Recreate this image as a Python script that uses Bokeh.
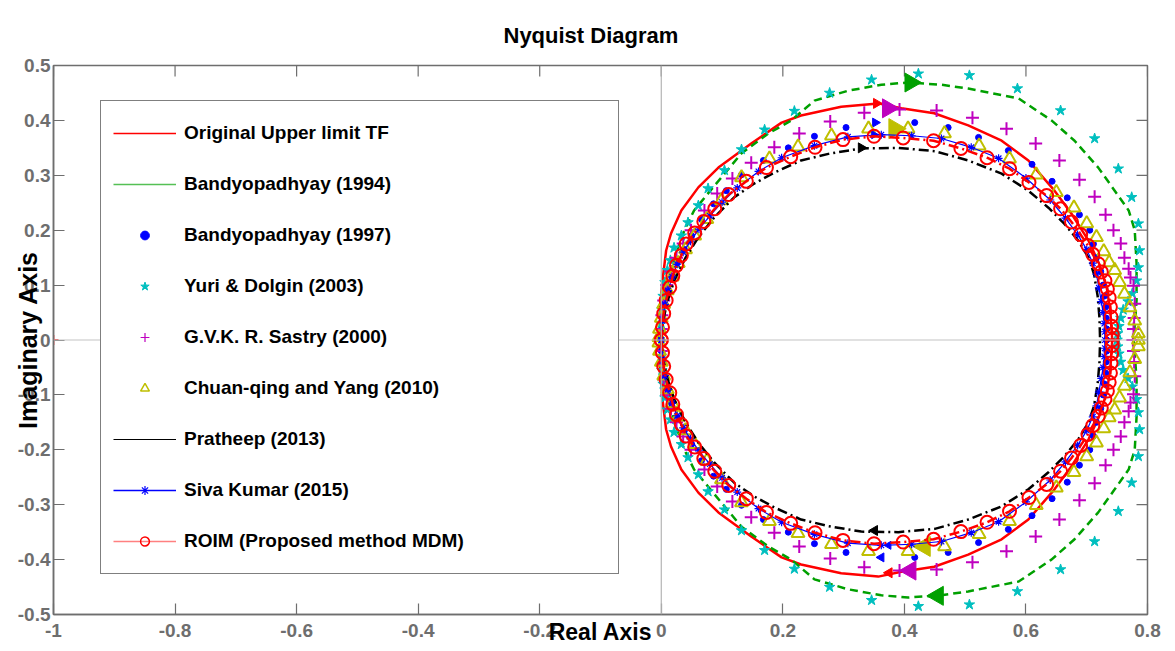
import math
import numpy as np
from bokeh.plotting import figure
from bokeh.models import Range1d, Span, Legend, LegendItem, FixedTicker, Title
from bokeh.embed import file_html
from bokeh.resources import INLINE

# ---------------- data (upper half of each Nyquist curve,
# ordered from the real-axis end (w=0) to the origin) ----------------
orig_x = [0.742, 0.739, 0.733, 0.722, 0.703, 0.675, 0.647, 0.604, 0.560, 0.505, 0.449, 0.395, 0.357, 0.296, 0.230, 0.198, 0.148, 0.094, 0.061, 0.033, 0.016, 0.008, 0.002, -0.002, -0.002, 0.000]
orig_y = [0.000, 0.050, 0.095, 0.135, 0.181, 0.230, 0.272, 0.327, 0.363, 0.391, 0.413, 0.422, 0.431, 0.425, 0.409, 0.396, 0.358, 0.314, 0.278, 0.236, 0.194, 0.163, 0.108, 0.060, 0.030, 0.000]

b94_x = [0.777, 0.780, 0.782, 0.782, 0.779, 0.769, 0.746, 0.719, 0.680, 0.642, 0.588, 0.505, 0.461, 0.406, 0.362, 0.307, 0.252, 0.214, 0.176, 0.132, 0.104, 0.077, 0.054, 0.038, 0.028, 0.018, 0.010, 0.004, 0.001, 0.000]
b94_y = [0.000, 0.040, 0.072, 0.140, 0.200, 0.236, 0.272, 0.314, 0.363, 0.400, 0.440, 0.458, 0.465, 0.469, 0.465, 0.454, 0.436, 0.400, 0.376, 0.340, 0.303, 0.267, 0.236, 0.200, 0.169, 0.135, 0.100, 0.060, 0.030, 0.000]

b97_x = [0.733, 0.733, 0.732, 0.731, 0.729, 0.727, 0.723, 0.716, 0.711, 0.705, 0.688, 0.668, 0.643, 0.610, 0.571, 0.522, 0.472, 0.417, 0.304, 0.252, 0.209, 0.168, 0.132, 0.107, 0.086, 0.066, 0.050, 0.038, 0.026, 0.017, 0.010, 0.005, 0.002, 0.000, 0.000]
b97_y = [0.000, 0.020, 0.040, 0.060, 0.080, 0.100, 0.125, 0.150, 0.175, 0.200, 0.228, 0.259, 0.289, 0.320, 0.345, 0.369, 0.387, 0.396, 0.387, 0.371, 0.350, 0.327, 0.301, 0.272, 0.248, 0.220, 0.190, 0.165, 0.140, 0.115, 0.090, 0.065, 0.040, 0.020, 0.000]

yuri_x = [0.750, 0.751, 0.753, 0.756, 0.760, 0.768, 0.775, 0.782, 0.785, 0.787, 0.785, 0.774, 0.752, 0.713, 0.657, 0.586, 0.507, 0.423, 0.346, 0.277, 0.219, 0.170, 0.132, 0.104, 0.077, 0.061, 0.044, 0.033, 0.021, 0.015, 0.010, 0.006, 0.003, 0.001, 0.000]
yuri_y = [0.000, 0.012, 0.025, 0.040, 0.055, 0.070, 0.085, 0.108, 0.132, 0.163, 0.212, 0.260, 0.312, 0.367, 0.418, 0.458, 0.482, 0.485, 0.474, 0.450, 0.417, 0.383, 0.347, 0.309, 0.276, 0.245, 0.214, 0.190, 0.168, 0.145, 0.127, 0.105, 0.080, 0.055, 0.030]

sas_x = [0.776, 0.777, 0.778, 0.779, 0.777, 0.772, 0.769, 0.762, 0.756, 0.744, 0.731, 0.713, 0.688, 0.655, 0.616, 0.568, 0.512, 0.453, 0.392, 0.334, 0.278, 0.227, 0.186, 0.148, 0.117, 0.092, 0.071, 0.049, 0.036, 0.025, 0.016, 0.009, 0.004, 0.001, 0.000]
sas_y = [0.000, 0.020, 0.040, 0.066, 0.099, 0.114, 0.130, 0.150, 0.176, 0.200, 0.228, 0.261, 0.292, 0.327, 0.358, 0.385, 0.405, 0.418, 0.420, 0.414, 0.398, 0.376, 0.351, 0.323, 0.294, 0.267, 0.236, 0.200, 0.176, 0.150, 0.125, 0.100, 0.072, 0.045, 0.020]

chu_x = [0.785, 0.785, 0.779, 0.771, 0.762, 0.754, 0.746, 0.737, 0.728, 0.716, 0.700, 0.679, 0.650, 0.617, 0.573, 0.523, 0.466, 0.406, 0.341, 0.280, 0.225, 0.178, 0.132, 0.099, 0.075, 0.055, 0.040, 0.028, 0.018, 0.010, 0.004, 0.000, -0.003, -0.004]
chu_y = [0.000, 0.012, 0.035, 0.059, 0.084, 0.105, 0.127, 0.141, 0.161, 0.187, 0.212, 0.241, 0.269, 0.301, 0.330, 0.354, 0.376, 0.385, 0.385, 0.372, 0.352, 0.330, 0.296, 0.254, 0.220, 0.190, 0.165, 0.140, 0.115, 0.090, 0.065, 0.040, 0.020, 0.005]

pra_x = [0.722, 0.721, 0.718, 0.712, 0.703, 0.686, 0.663, 0.637, 0.604, 0.560, 0.505, 0.450, 0.390, 0.329, 0.275, 0.230, 0.186, 0.153, 0.120, 0.087, 0.061, 0.040, 0.022, 0.010, 0.003, 0.000]
pra_y = [0.000, 0.040, 0.080, 0.120, 0.150, 0.181, 0.212, 0.241, 0.272, 0.303, 0.327, 0.344, 0.350, 0.349, 0.339, 0.327, 0.305, 0.285, 0.260, 0.223, 0.187, 0.150, 0.110, 0.070, 0.035, 0.000]

siva_x = [0.730, 0.730, 0.729, 0.727, 0.724, 0.720, 0.716, 0.710, 0.700, 0.685, 0.665, 0.640, 0.600, 0.555, 0.510, 0.461, 0.412, 0.362, 0.307, 0.252, 0.198, 0.160, 0.125, 0.100, 0.080, 0.062, 0.048, 0.036, 0.026, 0.018, 0.011, 0.006, 0.002, 0.000]
siva_y = [0.000, 0.015, 0.030, 0.050, 0.070, 0.095, 0.120, 0.140, 0.165, 0.192, 0.222, 0.255, 0.295, 0.331, 0.351, 0.367, 0.372, 0.374, 0.370, 0.354, 0.332, 0.307, 0.277, 0.251, 0.226, 0.202, 0.180, 0.160, 0.138, 0.115, 0.090, 0.065, 0.035, 0.000]

roim_x = [0.742, 0.742, 0.741, 0.740, 0.739, 0.737, 0.734, 0.730, 0.724, 0.719, 0.710, 0.702, 0.690, 0.675, 0.657, 0.634, 0.605, 0.573, 0.536, 0.493, 0.448, 0.398, 0.350, 0.299, 0.253, 0.213, 0.173, 0.140, 0.111, 0.088, 0.070, 0.055, 0.041, 0.033, 0.025, 0.019, 0.014, 0.008, 0.004, 0.002, 0.000]
roim_y = [0.000, 0.010, 0.025, 0.042, 0.060, 0.077, 0.093, 0.108, 0.124, 0.139, 0.156, 0.172, 0.192, 0.215, 0.239, 0.263, 0.287, 0.312, 0.332, 0.349, 0.363, 0.368, 0.371, 0.365, 0.351, 0.334, 0.314, 0.289, 0.265, 0.239, 0.216, 0.195, 0.175, 0.154, 0.136, 0.117, 0.096, 0.072, 0.048, 0.023, 0.000]

# direction arrows (upper one on the w<0 branch, lower one on the w>0 branch)
orig_arrow_x = [0.354, 0.375]
orig_arrow_y = [0.431, -0.424]
b94_arrow_x = [0.410, 0.455]
b94_arrow_y = [0.469, -0.466]
b97_arrow_x = [0.352, 0.362]
b97_arrow_y = [0.396, -0.396]
sas_arrow_x = [0.373, 0.410]
sas_arrow_y = [0.422, -0.420]
chu_arrow_x = [0.384, 0.433]
chu_arrow_y = [0.385, -0.376]
pra_arrow_x = [0.329, 0.351]
pra_arrow_y = [0.350, -0.347]
siva_arrow_x = [0.350, 0.374]
siva_arrow_y = [0.374, -0.374]

critical_x = [-1.0]
critical_y = [0.0]

x_ticks = [-1.0, -0.8, -0.6, -0.4, -0.2, 0.0, 0.2, 0.4, 0.6, 0.8]
x_tick_labels = ["-1", "-0.8", "-0.6", "-0.4", "-0.2", "0", "0.2", "0.4", "0.6", "0.8"]
y_ticks = [-0.5, -0.4, -0.3, -0.2, -0.1, 0.0, 0.1, 0.2, 0.3, 0.4, 0.5]
y_tick_labels = ["-0.5", "-0.4", "-0.3", "-0.2", "-0.1", "0", "0.1", "0.2", "0.3", "0.4", "0.5"]

labels = ["Original Upper limit TF", "Bandyopadhyay (1994)", "Bandyopadhyay (1997)",
          "Yuri & Dolgin (2003)", "G.V.K. R. Sastry (2000)", "Chuan-qing and Yang (2010)",
          "Pratheep (2013)", "Siva Kumar (2015)", "ROIM (Proposed method MDM)"]
title_text = "Nyquist Diagram"
x_title = "Real Axis"
y_title = "Imaginary Axis"

X_MIN, X_MAX = -1.0, 0.8
Y_MIN, Y_MAX = -0.5, 0.5


def full_curve(xs, ys):
    """Nyquist curve: w<0 branch is the complex conjugate of the w>0 branch."""
    fx = list(reversed(xs)) + list(xs[1:])
    fy = list(reversed(ys)) + [-v for v in ys[1:]]
    return fx, fy


def arrow_angles(ys):
    return [-math.pi / 2 if v > 0 else math.pi / 2 for v in ys]


FONT = "Liberation Sans"
RED = "#ff0000"
GREEN = "#00a000"
BLUE = "#0000ff"
CYAN = "#00bfbf"
MAGENTA = "#bf00bf"
YELLOW = "#bfbf00"
AXIS_GREY = "#6e6e6e"

W, H = 1174, 650
ML, MT, MR, MB = 53, 65, 27, 36
FRAME_W = W - ML - MR
FRAME_H = H - MT - MB
TICK_PX = 11

p = figure(width=W, height=H, output_backend="svg", toolbar_location=None, title=None,
           x_range=Range1d(X_MIN, X_MAX), y_range=Range1d(Y_MIN, Y_MAX),
           min_border_left=ML, min_border_right=MR, min_border_top=MT, min_border_bottom=MB)
p.xgrid.visible = False
p.ygrid.visible = False
p.outline_line_color = AXIS_GREY
p.outline_line_width = 1.5
p.background_fill_color = "white"

xax = p.below[0]
yax = p.left[0]

# title lifted away from the frame by its standoff
title = Title(text=title_text, align="left", offset=450, standoff=36, text_font=FONT,
              text_font_size="22px", text_font_style="bold", text_color="black")
p.add_layout(title, "above")

for ax in (xax, yax):
    ax.axis_line_color = AXIS_GREY
    ax.axis_line_width = 1.5
    ax.major_tick_line_color = AXIS_GREY
    ax.major_tick_line_width = 1.2
    ax.major_tick_in = TICK_PX
    ax.major_tick_out = 0
    ax.minor_tick_line_color = None
    ax.major_label_text_font = FONT
    ax.major_label_text_font_style = "bold"
    ax.major_label_text_font_size = "19px"
    ax.major_label_text_color = AXIS_GREY
    ax.axis_label_text_font = FONT
    ax.axis_label_text_font_style = "bold"
    ax.axis_label_text_color = "black"

xax.ticker = FixedTicker(ticks=x_ticks)
yax.ticker = FixedTicker(ticks=y_ticks)
xax.major_label_overrides = dict(zip(x_ticks, x_tick_labels))
yax.major_label_overrides = dict(zip(y_ticks, y_tick_labels))
xax.major_label_standoff = 9
yax.major_label_standoff = 3
xax.axis_label = x_title
yax.axis_label = y_title
xax.axis_label_text_font_size = "23px"
yax.axis_label_text_font_size = "25px"
xax.axis_label_standoff = -21
yax.axis_label_standoff = -27

# inward tick marks on the top and right edges of the box
dy = TICK_PX * (Y_MAX - Y_MIN) / FRAME_H
dx = TICK_PX * (X_MAX - X_MIN) / FRAME_W
p.segment(x0=x_ticks, y0=[Y_MAX] * len(x_ticks), x1=x_ticks, y1=[Y_MAX - dy] * len(x_ticks),
          line_color=AXIS_GREY, line_width=1.2)
p.segment(x0=[X_MAX] * len(y_ticks), y0=y_ticks, x1=[X_MAX - dx] * len(y_ticks), y1=y_ticks,
          line_color=AXIS_GREY, line_width=1.2)

# zero lines
p.add_layout(Span(location=0, dimension="height", line_color="#b4b4b4", line_width=1.2))
p.add_layout(Span(location=0, dimension="width", line_color="#c4c4c4", line_width=1.2))

# critical point
p.scatter(critical_x, critical_y, marker="cross", size=10, line_color=RED, line_width=1.5)

# --- curves ---
fx, fy = full_curve(orig_x, orig_y)
p.line(fx, fy, line_color=RED, line_width=2.5)
p.scatter(orig_arrow_x, orig_arrow_y, marker="triangle", size=10, angle=arrow_angles(orig_arrow_y),
          fill_color=RED, line_color=RED)

fx, fy = full_curve(b94_x, b94_y)
p.line(fx, fy, line_color=GREEN, line_width=2.5, line_dash="8 5")
p.scatter(b94_arrow_x, b94_arrow_y, marker="triangle", size=19, angle=arrow_angles(b94_arrow_y),
          fill_color=GREEN, line_color=GREEN)

fx, fy = full_curve(b97_x, b97_y)
p.scatter(fx, fy, marker="circle", size=6, fill_color=BLUE, line_color=BLUE)
p.scatter(b97_arrow_x, b97_arrow_y, marker="triangle", size=9, angle=arrow_angles(b97_arrow_y),
          fill_color=BLUE, line_color=BLUE)

fx, fy = full_curve(yuri_x, yuri_y)
p.scatter(fx, fy, marker="star", size=11, fill_color=CYAN, line_color=CYAN)

fx, fy = full_curve(sas_x, sas_y)
p.scatter(fx, fy, marker="cross", size=13, line_color=MAGENTA, line_width=2)
p.scatter(sas_arrow_x, sas_arrow_y, marker="triangle", size=19, angle=arrow_angles(sas_arrow_y),
          fill_color=MAGENTA, line_color=MAGENTA)

fx, fy = full_curve(chu_x, chu_y)
p.scatter(fx, fy, marker="triangle", size=13, fill_color=None, line_color=YELLOW, line_width=2)
p.scatter(chu_arrow_x, chu_arrow_y, marker="triangle", size=20, angle=arrow_angles(chu_arrow_y),
          fill_color=YELLOW, line_color=YELLOW)

fx, fy = full_curve(pra_x, pra_y)
p.line(fx, fy, line_color="black", line_width=2.5, line_dash="10 4 2 4")
p.scatter(pra_arrow_x, pra_arrow_y, marker="triangle", size=10, angle=arrow_angles(pra_arrow_y),
          fill_color="black", line_color="black")

fx, fy = full_curve(siva_x, siva_y)
p.line(fx, fy, line_color=BLUE, line_width=1.2)
p.scatter(fx, fy, marker="asterisk", size=8, line_color=BLUE, line_width=1.2)
p.scatter(siva_arrow_x, siva_arrow_y, marker="triangle", size=8, angle=arrow_angles(siva_arrow_y),
          fill_color=BLUE, line_color=BLUE)

fx, fy = full_curve(roim_x, roim_y)
p.line(fx, fy, line_color=RED, line_width=2.5, line_dash="10 4 2 4")
p.scatter(fx, fy, marker="circle", size=13, fill_color=None, line_color=RED, line_width=2)

# --- legend sample glyphs (thin samples as in the original legend; not drawn in the plot) ---
NAN = np.array([np.nan])
lg_orig = p.line(NAN, NAN, line_color=RED, line_width=1.5)
lg_b94 = p.line(NAN, NAN, line_color="#55c055", line_width=1.5)
lg_b97 = p.scatter(NAN, NAN, marker="circle", fill_color=BLUE, line_color=BLUE)
lg_yuri = p.scatter(NAN, NAN, marker="star", fill_color=CYAN, line_color=CYAN)
lg_sas = p.scatter(NAN, NAN, marker="cross", line_color=MAGENTA, line_width=1.2)
lg_chu = p.scatter(NAN, NAN, marker="triangle", fill_color=None, line_color=YELLOW, line_width=1.5)
lg_pra = p.line(NAN, NAN, line_color="black", line_width=1)
lg_siva_l = p.line(NAN, NAN, line_color=BLUE, line_width=1.5)
lg_siva_m = p.scatter(NAN, NAN, marker="asterisk", line_color=BLUE, line_width=1.2)
lg_roim_l = p.line(NAN, NAN, line_color="#ff8080", line_width=1.5)
lg_roim_m = p.scatter(NAN, NAN, marker="circle", fill_color=None, line_color=RED, line_width=1.5)

items = [
    LegendItem(label=labels[0], renderers=[lg_orig]),
    LegendItem(label=labels[1], renderers=[lg_b94]),
    LegendItem(label=labels[2], renderers=[lg_b97]),
    LegendItem(label=labels[3], renderers=[lg_yuri]),
    LegendItem(label=labels[4], renderers=[lg_sas]),
    LegendItem(label=labels[5], renderers=[lg_chu]),
    LegendItem(label=labels[6], renderers=[lg_pra]),
    LegendItem(label=labels[7], renderers=[lg_siva_l, lg_siva_m]),
    LegendItem(label=labels[8], renderers=[lg_roim_l, lg_roim_m]),
]
legend = Legend(items=items, location=(47, 40), glyph_width=63, glyph_height=22,
                label_height=40, label_width=422, label_standoff=8, spacing=11,
                padding=12, margin=0, border_line_color="black", border_line_width=1.5,
                background_fill_color="white", background_fill_alpha=1.0,
                label_text_font=FONT, label_text_font_style="bold",
                label_text_font_size="19px", label_text_color="black")
p.add_layout(legend)

open("out.html", "w").write(file_html(p, INLINE))
